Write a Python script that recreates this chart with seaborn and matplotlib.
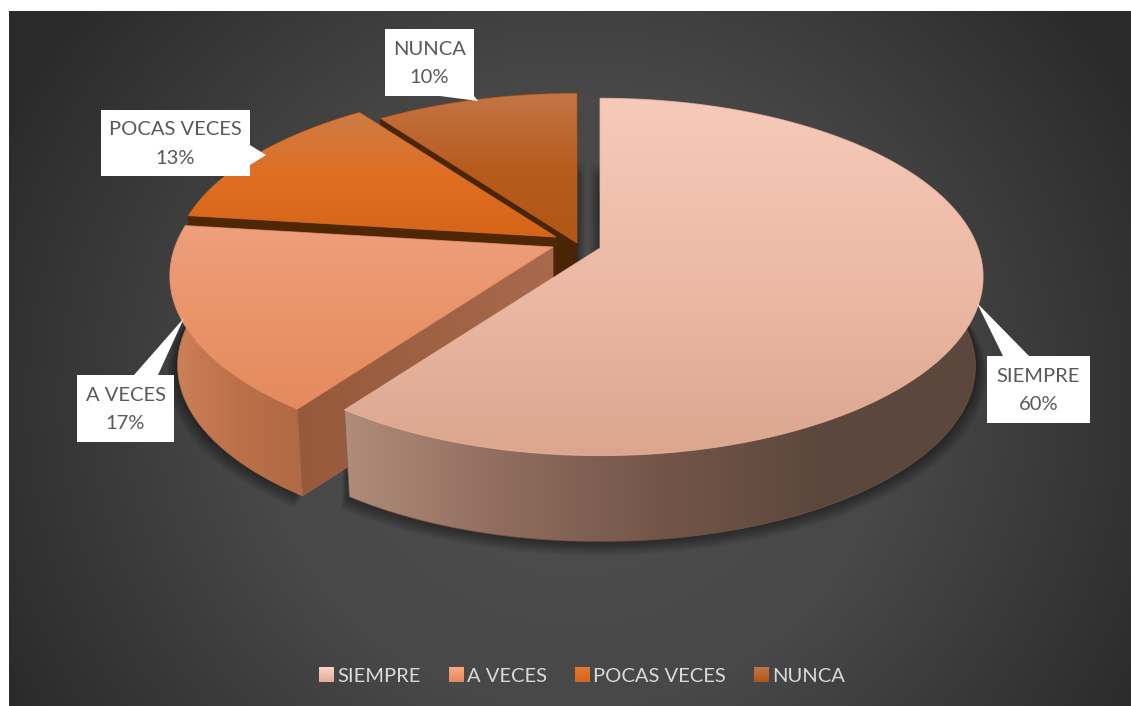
"""
Pastel 3D con porciones separadas - frecuencia de respuestas
"""

import numpy as np
import matplotlib
matplotlib.use('Agg')
import matplotlib.pyplot as plt
from matplotlib.patches import Polygon, Patch
import seaborn as sns

# Datos
categorias = ['SIEMPRE', 'A VECES', 'POCAS VECES', 'NUNCA']
valores = [60, 17, 13, 10]

sns.set_theme(style='white')
plt.rcParams['font.family'] = ['Lato', 'DejaVu Sans']

# Colores (arriba -> abajo en la cara, izquierda -> derecha en el borde)
cara_colores = [['#f6cab9', '#ecbaa6', '#dca68e'],
                ['#ee9f7d', '#ea9469', '#e48a5e'],
                ['#cd7c46', '#e06f24', '#d6651a'],
                ['#c47547', '#b85c1e', '#b15615']]
borde_colores = [['#b08c7a', '#8f6c5e', '#735548', '#5c473d', '#5c473d'],
                 ['#cf8259', '#bc7049', '#b06a45'],
                 ['#4f2705', '#4f2705'],
                 ['#4f2705', '#4f2705']]
corte_colores = [None, ['#96593a', '#a8694d'], ['#4f2705', '#4f2705'], ['#4a2505', '#4a2505']]
leyenda_colores = [['#fbd3c6', '#e0ab97'], ['#f8a87f', '#e48a5e'], ['#e27a30', '#d6651a'], ['#c47547', '#b15615']]

# Geometria de la perspectiva
centros = [(600, 248), (553, 247), (556, 237), (577, 243)]
RX, RY, K = 378, 174, 0.162
ALTO = 90
ESCALA_BASE = 0.98

fig = plt.figure(figsize=(11.31, 7.06), dpi=100, facecolor='white')
ax = fig.add_axes([0, 0, 1, 1])

# El pastel plano da los angulos de cada porcion
ax_aux = fig.add_axes([0, 0, 0.1, 0.1])
wedges, _ = ax_aux.pie(valores, startangle=90, counterclock=False)
angulos = [(w.theta1, w.theta2) for w in wedges]
ax_aux.remove()


def proyectar(theta, r, centro):
    t = np.radians(theta)
    u, v = r * np.cos(t), r * np.sin(t)
    d = 1 + K * v
    return np.column_stack([centro[0] + RX * u / d, centro[1] - RY * v / d])


def a_base(pts, centro):
    x = centro[0] + ESCALA_BASE * (pts[:, 0] - centro[0])
    y = centro[1] + ESCALA_BASE * (pts[:, 1] - centro[1]) + ALTO
    return np.column_stack([x, y])


def relleno(verts, colores, horizontal, zorder):
    cmap = sns.blend_palette(colores, as_cmap=True)
    x0, y0 = verts.min(axis=0)
    x1, y1 = verts.max(axis=0)
    grad = np.linspace(0, 1, 256)
    arr = grad[None, :] if horizontal else grad[:, None]
    poly = Polygon(verts, closed=True, facecolor='none', edgecolor='none', zorder=zorder)
    ax.add_patch(poly)
    im = ax.imshow(arr, cmap=cmap, extent=[x0, x1, y1, y0], aspect='auto', zorder=zorder,
                   origin='upper', interpolation='bilinear')
    im.set_clip_path(poly)
    # suaviza el borde, el clip no tiene antialias
    ax.add_patch(Polygon(verts, closed=True, facecolor='none', edgecolor=colores[len(colores) // 2],
                         linewidth=0.7, alpha=0.7, zorder=zorder + 0.01))


# Fondo radial
yy, xx = np.mgrid[11:706, 9:1131]
dist = np.sqrt(((xx - 575) / 640.0) ** 2 + ((yy - 400) / 620.0) ** 2)
ax.imshow(np.clip(dist, 0, 1), cmap=sns.blend_palette(['#4f4f4f', '#484848', '#2b2b2b'], as_cmap=True),
          extent=[9, 1131, 706, 11], aspect='auto', vmin=0, vmax=1, zorder=0)

# Sombra bajo el pastel
for i in range(9, 0, -1):
    for (t1, t2), c in zip(angulos[:2], centros[:2]):
        th = np.linspace(t1, t2, 200)
        base = a_base(proyectar(th, 1 + i * 0.003, c), c)
        sup = proyectar(th, 1, c)
        base[:, 1] += i * 0.8
        ax.add_patch(Polygon(np.vstack([sup, base[::-1]]), closed=True, facecolor='black',
                             edgecolor='none', alpha=0.05, zorder=1))

# Franjas de sombra en el hueco central, se desvanecen hacia arriba y hacia el centro
for x0, x1, invertir in [(575, 586, False), (589, 601, True)]:
    horiz = np.linspace(0, 1, 64) if invertir else np.linspace(1, 0, 64)
    vert = np.clip(np.linspace(0, 6, 102), 0, 1)
    sombra = np.zeros((102, 64, 4))
    sombra[..., :3] = 0.12
    sombra[..., 3] = np.outer(vert, horiz) * 0.75
    ax.imshow(sombra, extent=[x0, x1, 262, 160], aspect='auto', zorder=1.5)

# Porciones de atras hacia adelante
orden = [3, 2, 1, 0]
for n, i in enumerate(orden):
    t1, t2 = angulos[i]
    c = centros[i]
    z = 2 + n
    th = np.linspace(t1, t2, 300)
    arco = proyectar(th, 1, c)
    cara = np.vstack([arco, [c]])

    # borde exterior
    relleno(np.vstack([arco, a_base(arco, c)[::-1]]), borde_colores[i], True, z)

    # caras de corte visibles
    if corte_colores[i] is not None:
        p_ext = proyectar(np.array([t2]), 1, c)
        sup = np.vstack([p_ext, [c]])
        relleno(np.vstack([sup, a_base(sup, c)[::-1]]), corte_colores[i], True, z + 0.1)

    relleno(cara, cara_colores[i], False, z + 0.2)

# Etiquetas con flecha: caja (x0, x1, y0, y1) y puntero
cajas = [(987, 1090, 356, 423), (77, 174, 375, 442), (101, 250, 110, 176), (385, 474, 29, 96)]
punteros = [[(1003, 356), (1029, 356), (977, 303)],
            [(134, 375), (158, 375), (184, 318)],
            [(250, 145), (250, 165), (266, 155)],
            [(440, 96), (474, 96), (478, 101)]]
for cat, val, caja, punta in zip(categorias, valores, cajas, punteros):
    x0, x1, y0, y1 = caja
    ax.add_patch(Polygon([(x0, y0), (x1, y0), (x1, y1), (x0, y1)], closed=True, facecolor='white',
                         edgecolor='none', zorder=10))
    ax.add_patch(Polygon(punta, closed=True, facecolor='white', edgecolor='none', zorder=10))
    ax.text((x0 + x1) / 2, (y0 + y1) / 2 + 1, f'{cat}\n{val}%', ha='center', va='center', fontsize=14.5,
            color='#595959', linespacing=1.85, zorder=11)

ax.set_xlim(0, 1131)
ax.set_ylim(706, 0)
ax.axis('off')

# Leyenda
handles = [Patch(facecolor=c[0], edgecolor='none', label=l) for c, l in zip(leyenda_colores, categorias)]
leg = ax.legend(handles=handles, ncol=4, loc='center', bbox_to_anchor=(582 / 1131, 1 - 676 / 706),
                frameon=False, fontsize=14.5, labelcolor='#d9d9d9', handlelength=0.7, handleheight=0.7,
                handletextpad=0.2, columnspacing=1.4)
fig.canvas.draw()
inv = ax.transData.inverted()
for h, c in zip(leg.legend_handles, leyenda_colores):
    (x0, y0), (x1, y1) = inv.transform(h.get_window_extent().get_points())
    h.set_visible(False)
    ax.imshow(np.linspace(0, 1, 32)[:, None], cmap=sns.blend_palette(c, as_cmap=True),
              extent=[x0, x1, y0, y1], aspect='auto', zorder=12)
ax.set_xlim(0, 1131)
ax.set_ylim(706, 0)

fig.savefig('out.png', dpi=100)
